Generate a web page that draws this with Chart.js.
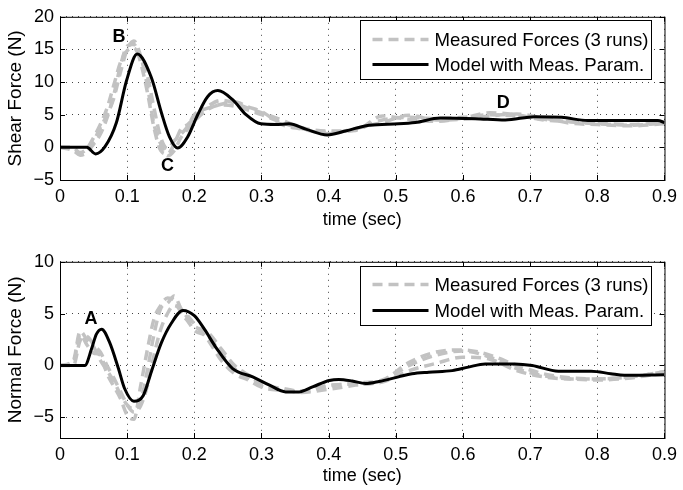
<!DOCTYPE html>
<html>
<head>
  <title>Shear and Normal Force vs Time</title>
  <script src="https://cdn.jsdelivr.net/npm/chart.js"></script>
  <style>
    body { margin: 0; background: white; }
    .plot { position: absolute; left: 0; width: 683px; height: 245px; }
    #shearWrap { top: 0; }
    #normalWrap { top: 245px; }
  </style>
</head>
<body>
  <div class="plot" id="shearWrap"><canvas id="shearChart" width="683" height="245"></canvas></div>
  <div class="plot" id="normalWrap"><canvas id="normalChart" width="683" height="245"></canvas></div>

  <script>
    // tick labels
    const xTicks = [0, 0.1, 0.2, 0.3, 0.4, 0.5, 0.6, 0.7, 0.8, 0.9];
    const shearTicks = [-5, 0, 5, 10, 15, 20];
    const normalTicks = [-5, 0, 5, 10];

    const seriesLabels = ['Measured Forces (3 runs)', 'Model with Meas. Param.'];

    // measured runs share one time grid (sec)
    const tMeas = [0, 0.02, 0.03, 0.04, 0.05, 0.06, 0.07, 0.08, 0.09, 0.1, 0.11, 0.12, 0.13, 0.14, 0.15, 0.16, 0.17, 0.18, 0.19, 0.2,
                   0.22, 0.24, 0.26, 0.28, 0.3, 0.33, 0.36, 0.4, 0.44, 0.48, 0.52, 0.56, 0.6, 0.64, 0.68, 0.72, 0.76, 0.8, 0.85, 0.9];

    // shear force (N)
    const shearRun1 = [0, 0, -1.0, -0.5, 1.0, 3.0, 5.0, 7.5, 11.5, 15.0, 16.3, 14.0, 9.5, 3.5, 0.5, -1.3, -0.5, 1.5, 2.8, 4.0,
                       5.8, 6.5, 6.3, 5.7, 5.0, 3.8, 2.9, 2.3, 2.7, 4.2, 4.6, 4.4, 4.6, 5.0, 4.8, 4.3, 3.9, 3.6, 3.4, 3.7];
    const shearRun2 = [0, -0.5, -1.2, -0.8, 0.5, 2.0, 4.5, 8.0, 12.5, 15.5, 15.8, 13.0, 8.5, 3.0, -0.5, -1.0, 0.5, 2.8, 3.5, 4.5,
                       6.3, 7.2, 6.8, 6.0, 5.3, 4.2, 3.0, 2.5, 2.6, 4.8, 4.3, 4.0, 4.5, 5.3, 5.0, 4.2, 4.0, 3.7, 3.5, 3.8];
    const shearRun3 = [0, -0.2, -0.8, -0.2, 1.5, 3.5, 6.0, 9.5, 13.0, 14.8, 15.2, 13.5, 11.0, 6.0, 1.5, -0.2, 1.0, 2.0, 3.2, 5.0,
                       6.0, 6.6, 7.0, 6.2, 5.5, 3.5, 2.8, 2.1, 2.9, 3.8, 4.9, 4.2, 4.3, 4.8, 5.1, 4.5, 3.7, 3.5, 3.3, 3.6];
    const tShearModel = [0, 0.04, 0.053, 0.067, 0.084, 0.099, 0.115, 0.136, 0.151, 0.163, 0.175, 0.19, 0.205, 0.22, 0.235, 0.257,
                         0.277, 0.299, 0.321, 0.341, 0.366, 0.398, 0.425, 0.46, 0.504, 0.529, 0.566, 0.618, 0.663, 0.707, 0.747, 0.786, 0.89, 0.9];
    const shearModel = [0, 0, -1.0, 0.1, 3.8, 10.2, 14.3, 10.7, 5.3, 1.6, -0.1, 1.6, 5.0, 7.8, 8.7, 7.3,
                        5.0, 3.6, 3.5, 3.6, 2.8, 1.9, 2.5, 3.4, 3.6, 3.8, 4.5, 4.4, 4.2, 4.7, 4.6, 4.1, 4.1, 3.8];

    // normal force (N)
    const normalRun1 = [0, 0.3, 3.0, 2.0, 1.2, 1.0, -0.8, -2.0, -3.2, -4.8, -5.2, -2.0, 1.5, 4.5, 5.8, 6.5, 6.3, 5.1, 4.3, 3.4,
                        2.8, 1.2, -0.3, -1.2, -2.0, -2.3, -2.6, -2.3, -1.9, -1.5, 0.0, 1.0, 1.4, 0.8, -0.3, -1.0, -1.3, -1.4, -1.2, -0.7];
    const normalRun2 = [0, 0.5, 3.3, 2.5, 1.8, 0.5, -0.5, -1.5, -2.8, -3.8, -4.2, -3.5, -0.5, 3.0, 5.5, 6.0, 6.7, 5.5, 4.6, 3.8,
                        3.2, 1.6, 0.0, -0.9, -1.8, -2.2, -2.5, -2.0, -1.7, -1.4, 0.3, 1.3, 1.5, 1.0, 0.0, -0.8, -1.2, -1.3, -1.1, -0.6];
    const normalRun3 = [0, 0.0, 2.4, 2.8, 2.0, 1.3, 0.0, -1.2, -2.5, -3.8, -4.5, -3.9, -2.0, 1.0, 3.5, 5.0, 5.8, 5.4, 4.8, 4.0,
                        2.5, 0.5, -0.8, -1.4, -2.1, -2.4, -2.5, -1.9, -1.8, -1.6, -0.5, 0.2, 0.8, 0.6, -0.5, -1.1, -1.3, -1.3, -1.1, -0.6];
    const tNormalModel = [0, 0.037, 0.047, 0.054, 0.062, 0.074, 0.087, 0.096, 0.11, 0.124, 0.136, 0.151, 0.166, 0.183, 0.2, 0.215,
                          0.232, 0.257, 0.287, 0.312, 0.336, 0.356, 0.376, 0.401, 0.415, 0.435, 0.455, 0.475, 0.504, 0.524, 0.549,
                          0.584, 0.608, 0.633, 0.677, 0.703, 0.742, 0.791, 0.82, 0.84, 0.9];
    const normalModel = [0, 0, 1.6, 3.0, 3.5, 2.2, -0.3, -2.2, -3.45, -2.9, -0.6, 2.2, 4.1, 5.3, 4.8, 3.5,
                         1.75, -0.3, -1.1, -1.9, -2.55, -2.55, -2.07, -1.45, -1.35, -1.5, -1.75, -1.55, -1.1, -0.8, -0.65,
                         -0.5, -0.16, 0.15, 0.15, 0, -0.55, -0.55, -0.8, -0.95, -0.9];

    // point letters
    const shearMarks = ['B', 'C', 'D'];
    const shearMarkX = [0.088, 0.16, 0.66];
    const shearMarkY = [16.9, -2.8, 6.8];
    const normalMarks = ['A'];
    const normalMarkX = [0.046];
    const normalMarkY = [4.5];

    const FONT = 'Liberation Sans, Arial, Helvetica, sans-serif';
    const GRAY = '#c2c2c2';

    const pts = (ts, vs) => ts.map((t, i) => ({ x: t, y: vs[i] }));
    const fmt = v => v < 0 ? '\u2212' + (-v) : (v === 0 ? '0' : String(v));

    // box, inward ticks, legend and letters drawn like a matlab axes
    const matlabAxes = {
      id: 'matlabAxes',
      afterDatasetsDraw(chart, args, opts) {
        const ctx = chart.ctx;
        const a = chart.chartArea;
        const sx = chart.scales.x, sy = chart.scales.y;
        ctx.save();

        // letters
        ctx.fillStyle = '#000';
        ctx.font = 'bold 18px ' + FONT;
        ctx.textAlign = 'center';
        ctx.textBaseline = 'middle';
        opts.marks.forEach((m, i) => {
          ctx.fillText(m, sx.getPixelForValue(opts.markX[i]), sy.getPixelForValue(opts.markY[i]));
        });

        // box + ticks
        ctx.strokeStyle = '#000';
        ctx.lineWidth = 1;
        ctx.setLineDash([]);
        ctx.strokeRect(a.left + 0.5, a.top + 0.5, a.right - a.left, a.bottom - a.top);
        const tl = 5;
        ctx.beginPath();
        sx.ticks.forEach(t => {
          const px = Math.round(sx.getPixelForValue(t.value)) + 0.5;
          ctx.moveTo(px, a.bottom); ctx.lineTo(px, a.bottom - tl);
          ctx.moveTo(px, a.top); ctx.lineTo(px, a.top + tl);
        });
        sy.ticks.forEach(t => {
          const py = Math.round(sy.getPixelForValue(t.value)) + 0.5;
          ctx.moveTo(a.left, py); ctx.lineTo(a.left + tl, py);
          ctx.moveTo(a.right, py); ctx.lineTo(a.right - tl, py);
        });
        ctx.stroke();

        // legend
        const w = 291, h = 59;
        const x0 = Math.round(a.right - 13 - w) + 0.5, y0 = Math.round(a.top + opts.legendTop) + 0.5;
        ctx.fillStyle = '#fff';
        ctx.fillRect(x0, y0, w, h);
        ctx.strokeRect(x0, y0, w, h);
        const ds = chart.data.datasets;
        const rows = [ds[1], ds[0]];
        rows.forEach((d, i) => {
          const yy = y0 + opts.rowY[i];
          ctx.strokeStyle = d.borderColor;
          ctx.lineWidth = d.borderWidth;
          ctx.setLineDash(d.borderDash || []);
          ctx.beginPath();
          ctx.moveTo(x0 + 12, yy); ctx.lineTo(x0 + 68, yy);
          ctx.stroke();
          ctx.setLineDash([]);
          ctx.fillStyle = '#000';
          ctx.font = '18.6px ' + FONT;
          ctx.textAlign = 'left';
          ctx.fillText(d.label, x0 + 74, yy + 1);
        });
        ctx.restore();
      }
    };

    function makeChart(id, o) {
      const measured = o.runs.map((r, i) => ({
        label: i === 0 ? seriesLabels[0] : seriesLabels[0] + ' ' + (i + 1),
        data: pts(tMeas, r),
        borderColor: GRAY,
        borderWidth: 3.5,
        borderDash: [10, 6],
        order: 1
      }));
      const model = {
        label: seriesLabels[1],
        data: pts(o.tModel, o.model),
        borderColor: '#000',
        borderWidth: 3,
        order: 0
      };
      return new Chart(document.getElementById(id), {
        type: 'line',
        data: { datasets: [model].concat(measured) },
        options: {
          responsive: false,
          animation: false,
          parsing: false,
          layout: { padding: { top: o.padTop, right: 16, bottom: 0, left: 0 } },
          elements: {
            point: { radius: 0 },
            line: { cubicInterpolationMode: 'monotone', borderCapStyle: 'butt', borderJoinStyle: 'round', fill: false }
          },
          plugins: {
            legend: { display: false },
            tooltip: { enabled: false },
            matlabAxes: { marks: o.marks, markX: o.markX, markY: o.markY, legendTop: o.legendTop, rowY: o.rowY }
          },
          scales: {
            x: {
              type: 'linear', min: 0, max: 0.9,
              afterBuildTicks: s => { s.ticks = xTicks.map(v => ({ value: v })); },
              afterFit: s => { s.height = o.xHeight; },
              ticks: { callback: fmt, color: '#000', font: { family: FONT, size: 18 }, padding: 6, maxRotation: 0, autoSkip: false },
              grid: { color: '#444', lineWidth: 1, drawTicks: false },
              border: { display: false, dash: [1, 5] },
              title: { display: true, text: 'time (sec)', color: '#000', font: { family: FONT, size: 18 }, padding: { top: 0, bottom: o.xTitlePad } }
            },
            y: {
              type: 'linear', min: o.yMin, max: o.yMax,
              afterBuildTicks: s => { s.ticks = o.yTicks.map(v => ({ value: v })); },
              afterFit: s => { s.width = 60; },
              ticks: { callback: fmt, color: '#000', font: { family: FONT, size: 18 }, padding: 6 },
              grid: { color: '#444', lineWidth: 1, drawTicks: false },
              border: { display: false, dash: [1, 5] },
              title: { display: true, text: o.yTitle, color: '#000', font: { family: FONT, size: 19 }, padding: { top: 4, bottom: 0 } }
            }
          }
        },
        plugins: [matlabAxes]
      });
    }

    makeChart('shearChart', {
      runs: [shearRun1, shearRun2, shearRun3], tModel: tShearModel, model: shearModel,
      marks: shearMarks, markX: shearMarkX, markY: shearMarkY,
      yMin: -5, yMax: 20, yTicks: shearTicks, yTitle: 'Shear Force (N)',
      padTop: 10, xHeight: 65, xTitlePad: 14, legendTop: 3, rowY: [19, 44]
    });

    makeChart('normalChart', {
      runs: [normalRun1, normalRun2, normalRun3], tModel: tNormalModel, model: normalModel,
      marks: normalMarks, markX: normalMarkX, markY: normalMarkY,
      yMin: -7, yMax: 10, yTicks: normalTicks, yTitle: 'Normal Force (N)',
      padTop: 14, xHeight: 52, xTitlePad: 3, legendTop: 4, rowY: [18, 44]
    });
  </script>
</body>
</html>
